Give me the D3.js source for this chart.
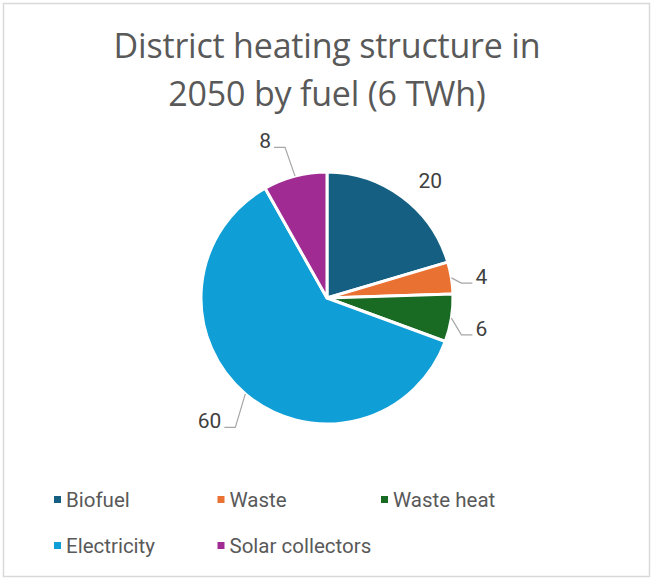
<!DOCTYPE html>
<html>
<head>
<meta charset="utf-8">
<script src="https://cdn.jsdelivr.net/npm/d3@7"></script>
<style>
  body { margin: 0; background: #fff; }
  text { font-family: "Roboto", "Liberation Sans", sans-serif; }
</style>
</head>
<body>
<svg id="viz"></svg>
<script>
var width = 653;
var height = 580;

// data
var fuels = ["Biofuel", "Waste", "Waste heat", "Electricity", "Solar collectors"];
var shares = [20, 4, 6, 60, 8];
var colors = ["#156082", "#E97132", "#196B24", "#0F9ED5", "#A02B93"];
var titleLines = ["District heating structure in", "2050 by fuel (6 TWh)"];

var svg = d3.select("#viz")
    .attr("width", width)
    .attr("height", height);

// chart frame
svg.append("rect")
    .attr("x", 3.5).attr("y", 3.5)
    .attr("width", width - 7).attr("height", height - 7)
    .attr("fill", "#fff")
    .attr("stroke", "#d9d9d9")
    .attr("stroke-width", 1.5);

// title
svg.selectAll(".title")
    .data(titleLines)
    .enter().append("text")
    .attr("class", "title")
    .attr("x", 327)
    .attr("y", function (d, i) { return 58 + i * 48; })
    .attr("text-anchor", "middle")
    .attr("fill", "#595959")
    .style("font-family", "'Open Sans', sans-serif")
    .style("font-size", "34px")
    .style("letter-spacing", "-0.2px")
    .text(function (d) { return d; });

var cx = 327, cy = 298, R = 126;

var pie = d3.pie().sort(null).value(function (d) { return d.value; });
var arc = d3.arc().innerRadius(0).outerRadius(R);

var rows = fuels.map(function (f, i) {
    return { name: f, value: shares[i], color: colors[i] };
});
var arcs = pie(rows);

var g = svg.append("g").attr("transform", "translate(" + cx + "," + cy + ")");

g.selectAll("path")
    .data(arcs)
    .enter().append("path")
    .attr("d", arc)
    .attr("fill", function (d) { return d.data.color; })
    .attr("stroke", "#fff")
    .attr("stroke-width", 3)
    .attr("stroke-linejoin", "round");

// labels
function polar(a, r) {
    return [Math.sin(a) * r, -Math.cos(a) * r];
}
var noLeader = ["Biofuel"];

arcs.forEach(function (d) {
    var mid = (d.startAngle + d.endAngle) / 2;
    var edge = polar(mid, R);
    var side = Math.sin(mid) >= 0 ? 1 : -1;

    if (noLeader.indexOf(d.data.name) >= 0) {
        var p = polar(mid, R + 30);
        g.append("text")
            .attr("x", p[0] + 10).attr("y", p[1] + 15)
            .attr("text-anchor", "middle")
            .attr("fill", "#404040")
            .style("font-size", "21px")
            .text(d.data.value);
        return;
    }

    var ty = polar(mid, R + 36)[1] + (side > 0 ? 5 : 0);
    var tx = edge[0] + side * 24;
    var ly = ty + 6;

    g.append("polyline")
        .attr("points", [edge, [edge[0] + side * 10, ly], [tx - side * 3, ly]]
            .map(function (q) { return q.join(","); }).join(" "))
        .attr("fill", "none")
        .attr("stroke", "#a6a6a6")
        .attr("stroke-width", 1.2);

    g.append("text")
        .attr("x", tx).attr("y", ty + 7)
        .attr("text-anchor", side > 0 ? "start" : "end")
        .attr("fill", "#404040")
        .style("font-size", "21px")
        .text(d.data.value);
});

// legend
var legend = svg.selectAll(".legend")
    .data(rows)
    .enter().append("g")
    .attr("class", "legend")
    .attr("transform", function (d, i) {
        var col = i % 3, row = Math.floor(i / 3);
        return "translate(" + (54 + col * 163.5) + "," + (496 + row * 46) + ")";
    });

legend.append("rect")
    .attr("width", 7).attr("height", 7)
    .attr("fill", function (d) { return d.color; });

legend.append("text")
    .attr("x", 12).attr("y", 11)
    .attr("fill", "#595959")
    .style("font-size", "20.5px")
    .text(function (d) { return d.name; });
</script>
</body>
</html>
